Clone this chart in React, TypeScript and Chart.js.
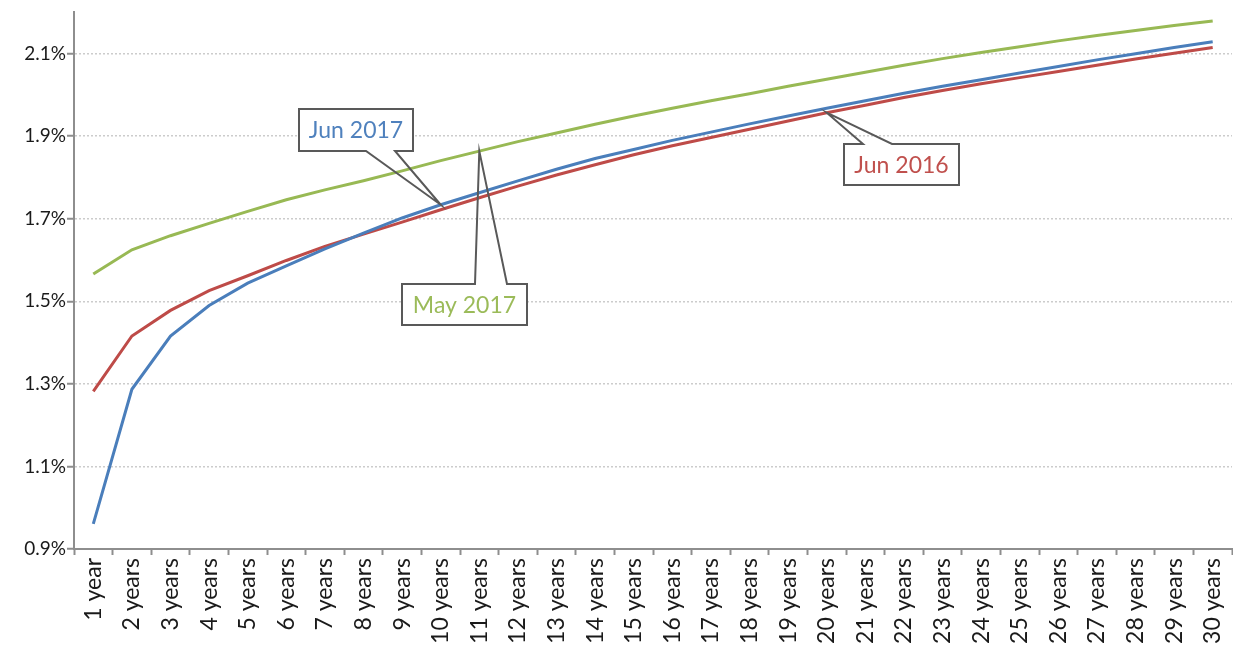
import React, { useEffect, useRef } from "react";
import { Chart, registerables } from "chart.js";

Chart.register(...registerables);

const categories = [
  "1 year", "2 years", "3 years", "4 years", "5 years", "6 years", "7 years", "8 years", "9 years", "10 years",
  "11 years", "12 years", "13 years", "14 years", "15 years", "16 years", "17 years", "18 years", "19 years", "20 years",
  "21 years", "22 years", "23 years", "24 years", "25 years", "26 years", "27 years", "28 years", "29 years", "30 years",
];

const jun2017 = [
  0.961, 1.287, 1.416, 1.490, 1.544, 1.586, 1.627, 1.665, 1.702, 1.734,
  1.763, 1.792, 1.820, 1.846, 1.868, 1.890, 1.910, 1.930, 1.949, 1.968,
  1.986, 2.004, 2.021, 2.037, 2.053, 2.069, 2.085, 2.100, 2.115, 2.129,
];

const may2017 = [
  1.566, 1.625, 1.659, 1.689, 1.718, 1.746, 1.770, 1.792, 1.816, 1.841,
  1.864, 1.887, 1.908, 1.929, 1.949, 1.968, 1.986, 2.003, 2.021, 2.038,
  2.055, 2.072, 2.088, 2.103, 2.117, 2.131, 2.144, 2.156, 2.168, 2.179,
];

const jun2016 = [
  1.282, 1.416, 1.478, 1.526, 1.562, 1.599, 1.633, 1.663, 1.692, 1.722,
  1.751, 1.779, 1.806, 1.831, 1.855, 1.877, 1.897, 1.917, 1.937, 1.957,
  1.975, 1.994, 2.011, 2.027, 2.042, 2.057, 2.072, 2.087, 2.101, 2.115,
];

const yTicks = [0.9, 1.1, 1.3, 1.5, 1.7, 1.9, 2.1];

const seriesNames = ["Jun 2017", "May 2017", "Jun 2016"];
const lineColors = ["#4A7EBB", "#98B954", "#BE4B48"];
const textColors = ["#4F81BD", "#9BBB59", "#C0504D"];

// callout: dataset index, point index, and box layout relative to the point (pixels)
const callouts = [
  { dataset: 0, index: 9, dx: -142, dy: -96, w: 114, h: 42, edge: "bottom", b1: 67, b2: 96 },
  { dataset: 1, index: 10, dx: -77, dy: 133, w: 125, h: 41, edge: "top", b1: 73, b2: 105 },
  { dataset: 2, index: 19, dx: 17, dy: 31, w: 115, h: 41, edge: "top", b1: 19, b2: 48 },
];

const FONT = "Lato, 'Open Sans', sans-serif";

const calloutPlugin = {
  id: "callouts",
  afterDatasetsDraw(chart: any) {
    const ctx = chart.ctx;
    ctx.save();
    for (const c of callouts) {
      const pt = chart.getDatasetMeta(c.dataset).data[c.index];
      const px = pt.x;
      const py = pt.y;
      const bx = Math.round(px + c.dx);
      const by = Math.round(py + c.dy);
      ctx.fillStyle = "#ffffff";
      ctx.fillRect(bx, by, c.w, c.h);
      ctx.beginPath();
      if (c.edge === "bottom") {
        ctx.moveTo(bx, by);
        ctx.lineTo(bx + c.w, by);
        ctx.lineTo(bx + c.w, by + c.h);
        ctx.lineTo(bx + c.b2, by + c.h);
        ctx.lineTo(px, py);
        ctx.lineTo(bx + c.b1, by + c.h);
        ctx.lineTo(bx, by + c.h);
        ctx.closePath();
      } else {
        ctx.moveTo(bx, by);
        ctx.lineTo(bx + c.b1, by);
        ctx.lineTo(px, py);
        ctx.lineTo(bx + c.b2, by);
        ctx.lineTo(bx + c.w, by);
        ctx.lineTo(bx + c.w, by + c.h);
        ctx.lineTo(bx, by + c.h);
        ctx.closePath();
      }
      ctx.strokeStyle = "#595959";
      ctx.lineWidth = 2;
      ctx.lineJoin = "miter";
      ctx.stroke();
      ctx.fillStyle = textColors[c.dataset];
      ctx.font = `23px ${FONT}`;
      ctx.textAlign = "center";
      ctx.textBaseline = "middle";
      ctx.fillText(seriesNames[c.dataset], bx + c.w / 2, by + c.h / 2 + 1);
    }
    ctx.restore();
  },
};

export default function App() {
  const ref = useRef<HTMLCanvasElement | null>(null);

  useEffect(() => {
    if (!ref.current) return;
    const series = [jun2017, may2017, jun2016];
    const chart = new Chart(ref.current, {
      type: "line",
      data: {
        labels: categories,
        datasets: series.map((d, i) => ({
          label: seriesNames[i],
          data: d,
          borderColor: lineColors[i],
          backgroundColor: lineColors[i],
          borderWidth: 3,
          pointRadius: 0,
          tension: 0,
          fill: false,
        })),
      },
      options: {
        responsive: false,
        animation: false,
        layout: { padding: { top: 9, right: 1, left: 0, bottom: 0 } },
        plugins: {
          legend: { display: false },
          tooltip: { enabled: false },
        },
        scales: {
          x: {
            type: "category",
            offset: true,
            grid: {
              display: true,
              drawOnChartArea: false,
              drawTicks: true,
              tickLength: 6,
              tickColor: "#8e8e8e",
              tickWidth: 2,
              offset: true,
            },
            border: { display: true, color: "#8e8e8e", width: 2 },
            ticks: {
              autoSkip: false,
              maxRotation: 90,
              minRotation: 90,
              padding: 3,
              color: "#1a1a1a",
              font: { family: FONT, size: 23 },
            },
            afterFit(scale: any) {
              scale.height = 98;
              scale.paddingLeft = 0;
              scale.paddingRight = 0;
            },
          },
          y: {
            min: 0.9,
            max: 2.2,
            grid: {
              color: "#cccccc",
              lineWidth: 1.5,
              drawTicks: true,
              tickLength: 7,
              tickColor: "#8e8e8e",
              tickWidth: 2,
              tickBorderDash: [],
            },
            border: { display: true, color: "#8e8e8e", width: 2, dash: [2, 2] },
            ticks: {
              padding: 1,
              color: "#1a1a1a",
              font: { family: FONT, size: 19 },
              callback: (v: any) => Number(v).toFixed(1) + "%",
            },
            afterBuildTicks(scale: any) {
              scale.ticks = yTicks.map((v) => ({ value: v }));
            },
            afterFit(scale: any) {
              scale.width = 74;
            },
          },
        },
      },
      plugins: [calloutPlugin],
    });
    return () => chart.destroy();
  }, []);

  return (
    <div style={{ position: "absolute", left: 0, top: 0, width: 1233, height: 647, background: "#fff" }}>
      <canvas ref={ref} width={1233} height={647} style={{ display: "block" }} />
    </div>
  );
}
